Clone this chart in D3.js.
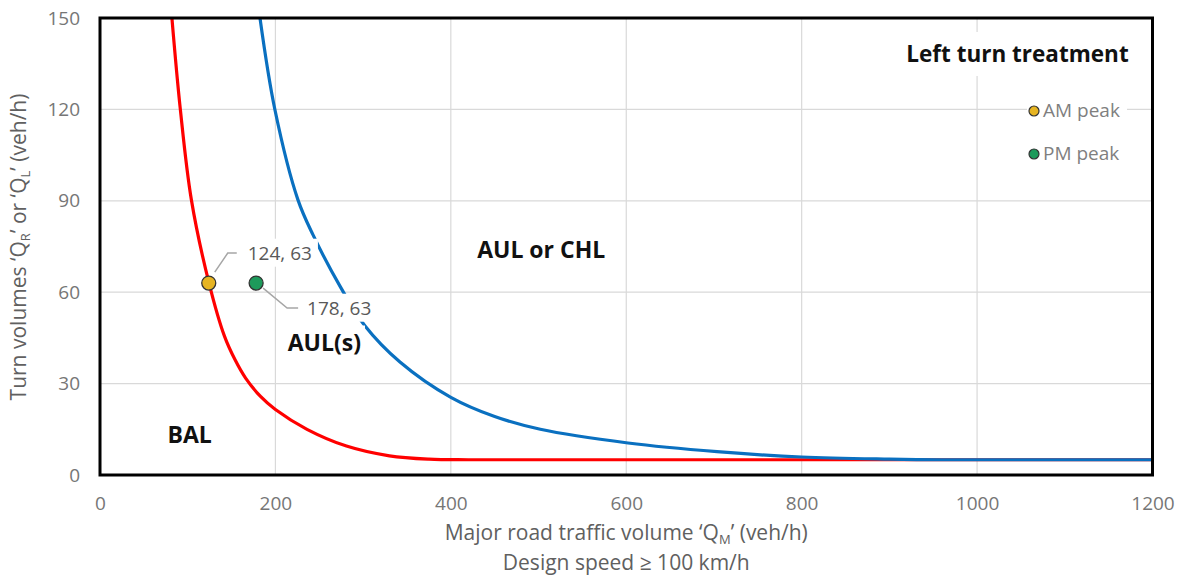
<!DOCTYPE html>
<html>
<head>
<meta charset="utf-8">
<script src="https://cdn.jsdelivr.net/npm/d3@7"></script>
<style>
  html, body { margin: 0; padding: 0; background: #fff; }
  svg { display: block; font-family: "Open Sans", "Noto Sans", sans-serif; }
</style>
</head>
<body>
<svg id="chart" width="1178" height="585"></svg>
<script>
// Warrant boundary curves: major road volume (veh/h) vs turn volume (veh/h)
const balBoundaryQM = [82, 91.6, 104.2, 124.3, 142, 154, 166, 183, 200, 236, 281, 330, 375, 420, 500, 600, 800, 1000, 1200];
const balBoundaryQT = [150, 120, 90.3, 63, 45.5, 37.8, 31.8, 25.8, 21.5, 15, 9.5, 6.3, 5.2, 5, 5, 5, 5, 5, 5];

const aulBoundaryQM = [182.4, 199.5, 225.7, 242.9, 273.6, 302, 342, 400, 450, 502, 602, 703.5, 800, 900, 960, 1050, 1200];
const aulBoundaryQT = [150, 119.8, 90.3, 78.8, 62, 49, 37.1, 25.5, 19.2, 15, 10.5, 7.65, 5.9, 5.2, 5, 5, 5];

// Observed peak-hour volumes
const peakNames = ["AM peak", "PM peak"];
const peakQM = [124, 178];
const peakQT = [63, 63];
const peakColors = ["#e6b422", "#1d9a5b"];

// Axis ticks
const xTicks = [0, 200, 400, 600, 800, 1000, 1200];
const yTicks = [0, 30, 60, 90, 120, 150];

// Region labels
const regionNames = ["AUL or CHL", "AUL(s)", "BAL"];
const regionQM = [430, 214, 77];
const regionQT = [74, 43.5, 13];

const svg = d3.select("#chart");
const plotLeft = 100, plotRight = 1152.5, plotTop = 18, plotBottom = 475;

const x = d3.scaleLinear().domain([0, 1200]).range([plotLeft, plotRight]);
const y = d3.scaleLinear().domain([0, 150]).range([plotBottom, plotTop]);

const tickColor = "#767676";
const titleColor = "#606060";

// Puts a white box behind a text element
function backing(textSel, padX, padY) {
  const node = textSel.node();
  const b = node.getBBox();
  d3.select(node.parentNode).insert("rect", () => node)
    .attr("x", b.x - padX).attr("y", b.y - padY)
    .attr("width", b.width + 2 * padX).attr("height", b.height + 2 * padY)
    .attr("fill", "#fff");
}

// Gridlines
svg.append("g")
  .selectAll("line")
  .data(yTicks.filter(d => d > 0 && d < 150))
  .join("line")
  .attr("x1", plotLeft).attr("x2", plotRight)
  .attr("y1", d => y(d)).attr("y2", d => y(d))
  .attr("stroke", "#d9d9d9").attr("stroke-width", 1.2);

svg.append("g")
  .selectAll("line")
  .data(xTicks.filter(d => d > 0 && d < 1200))
  .join("line")
  .attr("x1", d => x(d)).attr("x2", d => x(d))
  .attr("y1", plotTop).attr("y2", plotBottom)
  .attr("stroke", "#d9d9d9").attr("stroke-width", 1.2);

// Axes (labels only, the frame is drawn separately)
const xAxis = svg.append("g")
  .attr("transform", `translate(0,${plotBottom})`)
  .call(d3.axisBottom(x).tickValues(xTicks).tickFormat(d3.format("d")).tickSize(0).tickPadding(22));
xAxis.select(".domain").remove();
xAxis.selectAll("text")
  .attr("fill", tickColor)
  .style("font-size", "19px")
  .style("font-family", "'Open Sans', sans-serif");

const yAxis = svg.append("g")
  .attr("transform", `translate(${plotLeft},0)`)
  .call(d3.axisLeft(y).tickValues(yTicks).tickFormat(d3.format("d")).tickSize(0).tickPadding(20));
yAxis.select(".domain").remove();
yAxis.selectAll("text")
  .attr("fill", tickColor)
  .style("font-size", "19px")
  .style("font-family", "'Open Sans', sans-serif");

// Curves
svg.append("clipPath").attr("id", "plot-clip")
  .append("rect").attr("x", plotLeft).attr("y", plotTop)
  .attr("width", plotRight - plotLeft).attr("height", plotBottom - plotTop);

const line = d3.line()
  .x(d => x(d[0])).y(d => y(d[1]))
  .curve(d3.curveCatmullRom.alpha(0.5));

const balData = balBoundaryQM.map((q, i) => [q, balBoundaryQT[i]]);
const aulData = aulBoundaryQM.map((q, i) => [q, aulBoundaryQT[i]]);

const curves = svg.append("g").attr("clip-path", "url(#plot-clip)");
curves.append("path")
  .datum(balData)
  .attr("d", line)
  .attr("fill", "none")
  .attr("stroke", "#ff0000")
  .attr("stroke-width", 3.2);
curves.append("path")
  .datum(aulData)
  .attr("d", line)
  .attr("fill", "none")
  .attr("stroke", "#0a70c0")
  .attr("stroke-width", 3.2);

// Region labels
const regions = svg.append("g");
regionNames.forEach((name, i) => {
  const t = regions.append("text")
    .attr("x", x(regionQM[i]))
    .attr("y", y(regionQT[i]))
    .attr("dy", "0.35em")
    .attr("fill", "#111")
    .style("font-size", "23px")
    .style("font-weight", "700")
    .text(name);
  backing(t, 4, 0);
});

// Peak points with leader lines and value labels
const leaderOffsets = [
  [[6, -11], [19, -30], [28, -30]],
  [[7, 5], [31, 25], [42, 25]]
];
const labelOffsets = [[39, -30], [51, 25]];

const peaks = svg.append("g");
peakNames.forEach((name, i) => {
  const cx = x(peakQM[i]), cy = y(peakQT[i]);
  const g = peaks.append("g");
  const t = g.append("text")
    .attr("x", cx + labelOffsets[i][0])
    .attr("y", cy + labelOffsets[i][1])
    .attr("dy", "0.35em")
    .attr("fill", "#595959")
    .style("font-size", "19px")
    .text(`${peakQM[i]}, ${peakQT[i]}`);
  backing(t, 6, 1);
  g.append("polyline")
    .attr("points", leaderOffsets[i].map(p => [cx + p[0], cy + p[1]].join(",")).join(" "))
    .attr("fill", "none")
    .attr("stroke", "#a6a6a6")
    .attr("stroke-width", 1.5);
});
peaks.selectAll("circle")
  .data(peakNames)
  .join("circle")
  .attr("cx", (d, i) => x(peakQM[i]))
  .attr("cy", (d, i) => y(peakQT[i]))
  .attr("r", 7)
  .attr("fill", (d, i) => peakColors[i])
  .attr("stroke", "#333")
  .attr("stroke-width", 1.3);

// Frame
svg.append("rect")
  .attr("x", plotLeft).attr("y", plotTop)
  .attr("width", plotRight - plotLeft).attr("height", plotBottom - plotTop)
  .attr("fill", "none")
  .attr("stroke", "#000")
  .attr("stroke-width", 3);

// Legend
const legend = svg.append("g");
legend.append("rect")
  .attr("x", 900).attr("y", 32).attr("width", 240).attr("height", 44)
  .attr("fill", "#fff");
legend.append("text")
  .attr("x", 1017.5).attr("y", 54).attr("dy", "0.35em")
  .attr("text-anchor", "middle")
  .attr("fill", "#111")
  .style("font-size", "22.5px")
  .style("font-weight", "700")
  .text("Left turn treatment");

peakNames.forEach((name, i) => {
  const ly = 111 + i * 43;
  legend.append("rect")
    .attr("x", 1027).attr("y", ly - 12).attr("width", 100).attr("height", 24)
    .attr("fill", "#fff");
  legend.append("circle")
    .attr("cx", 1034).attr("cy", ly).attr("r", 5)
    .attr("fill", peakColors[i])
    .attr("stroke", "#333").attr("stroke-width", 1.2);
  legend.append("text")
    .attr("x", 1043).attr("y", ly - 1).attr("dy", "0.35em")
    .attr("fill", "#7f7f7f")
    .style("font-size", "19px")
    .text(name);
});

// Axis titles
const xTitle = svg.append("text")
  .attr("x", (plotLeft + plotRight) / 2).attr("y", 533).attr("dy", "0.35em")
  .attr("text-anchor", "middle")
  .attr("fill", titleColor)
  .style("font-size", "21px");
xTitle.append("tspan").text("Major road traffic volume \u2018Q");
xTitle.append("tspan").attr("dy", "4").style("font-size", "13px").text("M");
xTitle.append("tspan").attr("dy", "-4").text("\u2019 (veh/h)");

svg.append("text")
  .attr("x", (plotLeft + plotRight) / 2).attr("y", 563).attr("dy", "0.35em")
  .attr("text-anchor", "middle")
  .attr("fill", titleColor)
  .style("font-size", "21px")
  .text("Design speed \u2265 100 km/h");

const yTitle = svg.append("text")
  .attr("transform", "translate(19,247) rotate(-90)")
  .attr("dy", "0.35em")
  .attr("text-anchor", "middle")
  .attr("fill", titleColor)
  .style("font-size", "21px");
yTitle.append("tspan").text("Turn volumes \u2018Q");
yTitle.append("tspan").attr("dy", "4").style("font-size", "13px").text("R");
yTitle.append("tspan").attr("dy", "-4").text("\u2019 or \u2018Q");
yTitle.append("tspan").attr("dy", "4").style("font-size", "13px").text("L");
yTitle.append("tspan").attr("dy", "-4").text("\u2019 (veh/h)");
</script>
</body>
</html>
